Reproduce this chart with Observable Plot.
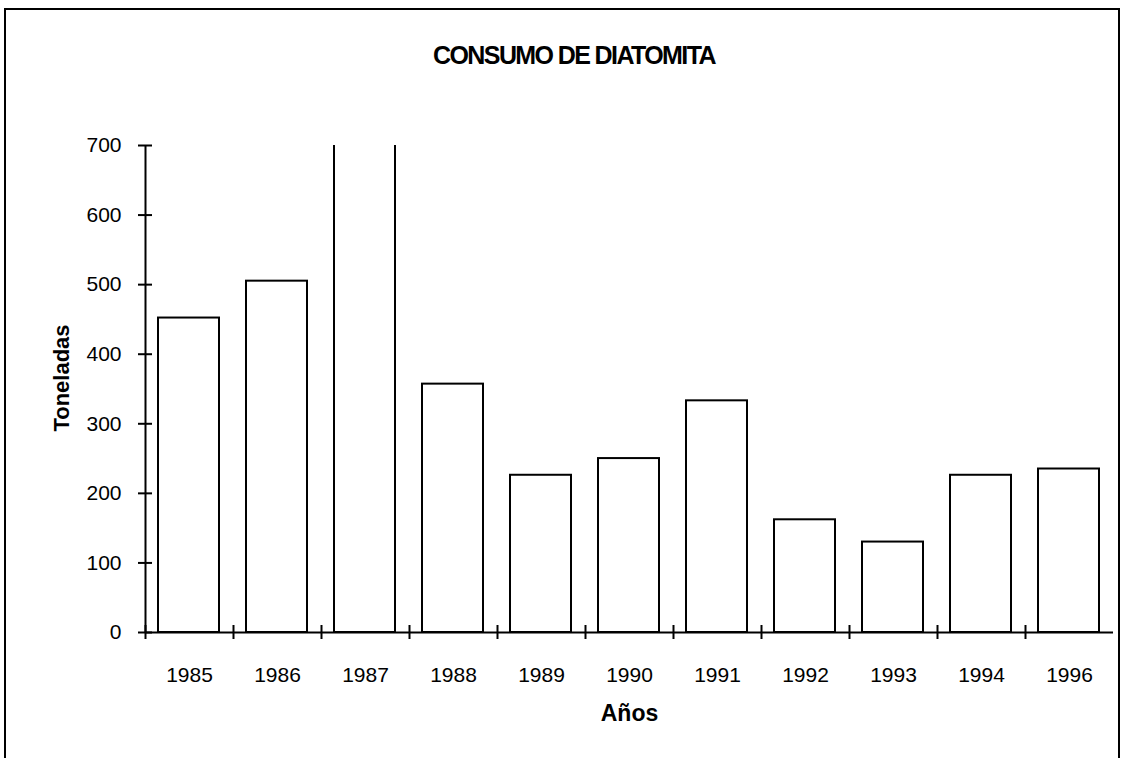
<!DOCTYPE html>
<html>
<head>
<meta charset="utf-8">
<script src="https://cdn.jsdelivr.net/npm/d3@7"></script>
<script src="https://cdn.jsdelivr.net/npm/@observablehq/plot@0.6"></script>
<style>
  html, body { margin: 0; padding: 0; background: #fff; }
  #page { position: relative; width: 1128px; height: 758px; overflow: hidden; background: #fff; }
  #frame { position: absolute; left: 4px; top: 8px; width: 1112px; height: 760px;
           border-top: 2px solid #000; border-left: 2px solid #000; border-right: 2px solid #000; }
  #title { position: absolute; left: 0; top: 43px; width: 1148px; text-align: center;
           font-family: "Liberation Sans", Arial, sans-serif; font-weight: bold; font-size: 25px;
           letter-spacing: -1.6px; line-height: 25px; color: #000; }
  #chart { position: absolute; left: 0; top: 0; }
</style>
</head>
<body>
<div id="page">
  <div id="frame"></div>
  <div id="title">CONSUMO DE DIATOMITA</div>
  <div id="chart"></div>
</div>
<script>
// Data
const years  = ["1985", "1986", "1987", "1988", "1989", "1990", "1991", "1992", "1993", "1994", "1996"];
const values = [452, 505, 720, 357, 226, 250, 333, 162, 130, 226, 235]; // toneladas (1987 runs past the top of the axis)
const yTicks = [0, 100, 200, 300, 400, 500, 600, 700];
const titleText = "CONSUMO DE DIATOMITA";
const xLabel = "Años";
const yLabel = "Toneladas";

document.getElementById("title").textContent = titleText;

const data = years.map((year, i) => ({i, year, value: values[i]}));
const n = years.length;
const boundaries = d3.range(n); // category separators on the axis
const centers = d3.range(n).map(i => i + 0.5);

const W = 1128, H = 758;
const ml = 145, mr = 15, mt = 145, mb = 126;
const innerW = W - ml - mr, innerH = H - mt - mb;

const chart = Plot.plot({
  width: W,
  height: H,
  marginLeft: ml,
  marginRight: mr,
  marginTop: mt,
  marginBottom: mb,
  x: {type: "linear", domain: [0, n], label: null},
  y: {domain: [0, 700], label: null},
  style: {fontFamily: "Liberation Sans, Arial, sans-serif", fontSize: "21px", color: "#000", background: "transparent", overflow: "visible"},
  marks: [
    Plot.rectY(data, {x1: "i", x2: d => d.i + 1, y: "value", insetLeft: 13, insetRight: 14,
                      fill: "white", stroke: "black", strokeWidth: 2, clip: true}),
    Plot.ruleX([0], {y1: 0, y2: 700, stroke: "black", strokeWidth: 2}),
    Plot.ruleY([0], {x1: 0, x2: n, stroke: "black", strokeWidth: 2}),
    Plot.tickY(yTicks, {y: d => d, insetRight: innerW - 14, dx: -7, stroke: "black", strokeWidth: 2}),
    Plot.tickX(boundaries, {x: d => d, insetTop: innerH - 14, dy: 7, stroke: "black", strokeWidth: 2}),
    Plot.axisY({ticks: yTicks, tickSize: 0, tickPadding: 24, fontSize: 21, label: null, tickFormat: d => String(d)}),
    Plot.axisX({ticks: centers, tickSize: 0, tickPadding: 35, fontSize: 21, label: null, tickFormat: d => years[Math.floor(d)]}),
    Plot.text([xLabel], {frameAnchor: "bottom", dy: 81, fontWeight: "bold", fontSize: 23, textAnchor: "middle", lineAnchor: "middle", text: d => d}),
    Plot.text([yLabel], {frameAnchor: "left", dx: -84, dy: -11, rotate: -90, fontWeight: "bold", fontSize: 22,
                         textAnchor: "middle", lineAnchor: "middle", letterSpacing: "-1px", text: d => d})
  ]
});
document.getElementById("chart").appendChild(chart);
</script>
</body>
</html>
